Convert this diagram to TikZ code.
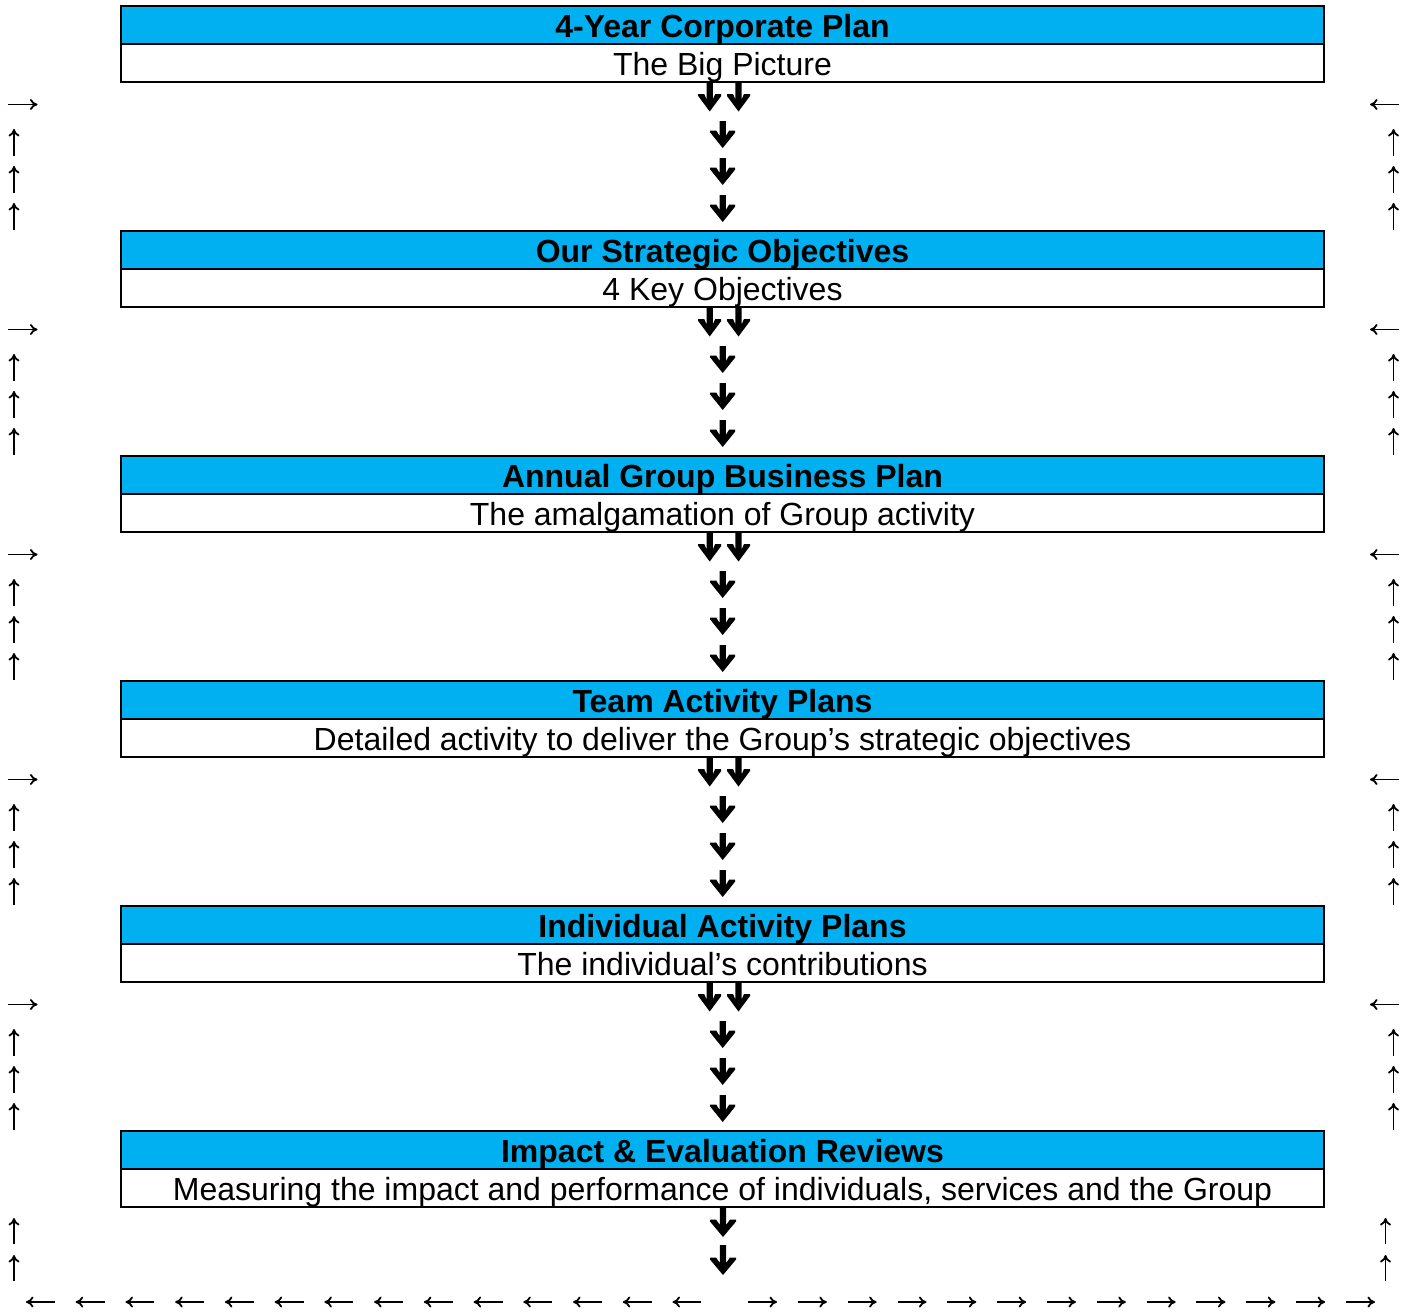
\documentclass[tikz,border=0pt]{standalone}
\usepackage{fontspec}
\setmainfont{Liberation Sans}
\usetikzlibrary{arrows.meta}
\definecolor{hdrblue}{HTML}{00B0F0}
% thick down arrow glyph: centre x, shaft top, tip, head half-width
\newcommand{\dnarrow}[4]{%
  \fill (#1-3.1,#2) -- (#1+3.1,#2) -- (#1+3.1,#3-12) -- (#1+#4-6,#3-17.5)
    -- (#1+#4,#3-17.5) -- (#1+#4,#3-15.5) -- (#1,#3) -- (#1-#4,#3-15.5) -- (#1-#4,#3-17.5) -- (#1-#4+6,#3-17.5)
    -- (#1-3.1,#3-12) -- cycle;}
\begin{document}
\begin{tikzpicture}[x=1pt,y=-1pt,
  hdr/.style={draw,line width=2pt,fill=hdrblue,minimum width=1203pt,minimum height=38.5pt,
    inner sep=0pt,text height=24pt,text depth=0pt,font=\fontsize{32}{38}\selectfont\bfseries},
  subbox/.style={draw,line width=2pt,fill=white,minimum width=1203pt,minimum height=38.5pt,
    inner sep=0pt,text height=24pt,text depth=0pt,font=\fontsize{32}{38}\selectfont},
  glyph/.style={line width=1.8pt,-{To[length=7.5pt,width=11pt]}}]
\useasboundingbox (0,0) rectangle (1405,1315);

\foreach \k/\ttl/\sbt in {
  0/{4-Year Corporate Plan}/{The Big Picture},
  1/{Our Strategic Objectives}/{4 Key Objectives},
  2/{Annual Group Business Plan}/{The amalgamation of Group activity},
  3/{Team Activity Plans}/{Detailed activity to deliver the Group’s strategic objectives},
  4/{Individual Activity Plans}/{The individual’s contributions},
  5/{Impact \& Evaluation Reviews}/{Measuring the impact and performance of individuals, services and the Group}}{
  \pgfmathsetmacro\tp{5.75+225*\k}
  \node[subbox] (s\k) at (722.5,\tp+57.25) {\sbt};
  \node[hdr] (h\k) at (722.5,\tp+19.25) {\ttl};
}

\foreach \k in {0,...,4}{
  \pgfmathsetmacro\off{225*\k}
  \draw[glyph] (7.5,104.5+\off) -- (37.5,104.5+\off);
  \draw[glyph] (1399,104.5+\off) -- (1370,104.5+\off);
  \foreach \t in {129,166,203}{
    \draw[glyph] (14,\t+27+\off) -- (14,\t+\off);
    \draw[glyph] (1393.5,\t+27+\off) -- (1393.5,\t+\off);
  }
  \dnarrow{709.7}{82.7+\off}{111.5+\off}{11.5}
  \dnarrow{738.5}{82.7+\off}{111.5+\off}{11.5}
  \dnarrow{722.7}{121+\off}{148+\off}{12.5}
  \dnarrow{722.7}{158+\off}{185+\off}{12.5}
  \dnarrow{722.7}{195+\off}{222+\off}{12.5}
}

\dnarrow{723}{1207}{1237}{13}
\dnarrow{723}{1245}{1275}{13}

\draw[glyph] (14,1244) -- (14,1218);
\draw[glyph] (14,1281) -- (14,1255);
\draw[glyph] (1385.5,1244) -- (1385.5,1218);
\draw[glyph] (1385.5,1281) -- (1385.5,1255);

\foreach \i in {0,...,13}{
  \pgfmathsetmacro\xs{26+49.73*\i}
  \draw[glyph] (\xs+29,1302) -- (\xs,1302);
}
\foreach \i in {0,...,12}{
  \pgfmathsetmacro\xs{748+49.83*\i}
  \draw[glyph] (\xs,1302) -- (\xs+29,1302);
}
\end{tikzpicture}
\end{document}
